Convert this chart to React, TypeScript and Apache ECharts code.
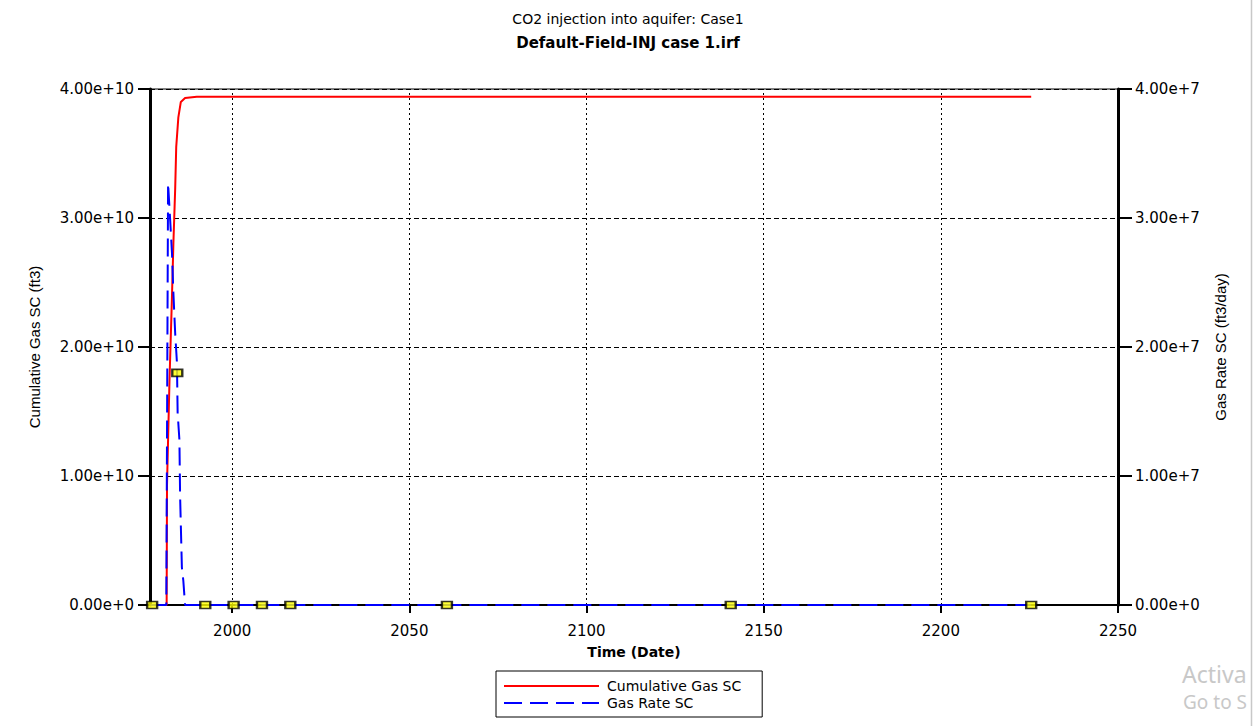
import React, { useEffect, useRef } from "react";
import * as echarts from "echarts";

// ---- data ----
const cumYears = [1977.0, 1981.5, 1981.6, 1982.3, 1983.0, 1983.4, 1983.9, 1984.2, 1984.8, 1985.5, 1986.7, 1990.0, 2225.5];
const cumGas = [0, 0, 0.93e10, 1.74e10, 2.39e10, 2.8e10, 3.22e10, 3.55e10, 3.78e10, 3.9e10, 3.93e10, 3.94e10, 3.94e10];

const rateYears = [1977.0, 1981.4, 1981.9, 1982.5, 1983.0, 1983.4, 1983.9, 1984.4, 1984.6, 1985.1, 1985.3, 1985.8, 1986.2, 1986.7, 2225.5];
const gasRate = [0, 0, 3.27e7, 2.98e7, 2.73e7, 2.42e7, 2.11e7, 1.88e7, 1.49e7, 1.28e7, 0.84e7, 0.29e7, 0.19e7, 0, 0];

const markerYears = [1977.4, 1984.5, 1992.4, 2000.4, 2008.4, 2016.4, 2060.6, 2140.7, 2225.5];
const markerRates = [0, 1.8e7, 0, 0, 0, 0, 0, 0, 0];

const xTickValues = [2000, 2050, 2100, 2150, 2200, 2250];
const xGridValues = [2000, 2050, 2100, 2150, 2200];

const titleLine1 = "CO2 injection into aquifer: Case1";
const titleLine2 = "Default-Field-INJ case 1.irf";
const seriesNames = ["Cumulative Gas SC", "Gas Rate SC"];

const SANS = "'DejaVu Sans', sans-serif";
const ARIAL = "'Liberation Sans', Arial, sans-serif";

function fmt(v: number) {
  return v.toExponential(2);
}

export default function App() {
  const ref = useRef<HTMLDivElement>(null);
  useEffect(() => {
    if (!ref.current) return;
    const chart = echarts.init(ref.current, null, { renderer: "svg" });
    const option: any = {
      animation: false,
      backgroundColor: "#ffffff",
      title: [
        {
          text: titleLine1,
          left: "center",
          top: 7,
          textStyle: { fontFamily: SANS, fontSize: 14, fontWeight: "normal", color: "#000" },
        },
        {
          text: titleLine2,
          left: "center",
          top: 30,
          textStyle: { fontFamily: SANS, fontSize: 15, fontWeight: "bold", color: "#000" },
        },
      ],
      legend: {
        data: seriesNames,
        orient: "vertical",
        left: 496,
        top: 671,
        itemWidth: 95,
        itemHeight: 12,
        itemGap: 3,
        padding: [8, 21, 7, 7],
        borderColor: "#000",
        borderWidth: 1,
        itemStyle: { opacity: 0 },
        textStyle: { fontFamily: SANS, fontSize: 14, color: "#000", padding: [0, 0, 0, 3] },
      },
      grid: {
        left: 150,
        right: 138,
        top: 89,
        bottom: 121,
        show: true,
        borderColor: "#000",
        borderWidth: 1,
        containLabel: false,
        outerBoundsMode: "none",
      },
      xAxis: {
        type: "value",
        min: 1976.8,
        max: 2250,
        name: "Time (Date)",
        nameLocation: "middle",
        nameGap: 40,
        nameTextStyle: { fontFamily: SANS, fontSize: 14, fontWeight: "bold", color: "#000" },
        axisLine: { show: true, onZero: false, lineStyle: { color: "#000", width: 2 } },
        axisTick: { show: true, length: 8, customValues: xTickValues, lineStyle: { color: "#000", width: 2 } },
        axisLabel: {
          customValues: xTickValues,
          margin: 18,
          fontFamily: SANS,
          fontSize: 15,
          color: "#000",
          formatter: (v: number) => String(v),
        },
        splitLine: { show: false },
      },
      yAxis: [
        {
          type: "value",
          min: 0,
          max: 4e10,
          interval: 1e10,
          position: "left",
          name: "Cumulative Gas SC (ft3)",
          nameLocation: "middle",
          nameGap: 108,
          nameRotate: 90,
          nameTextStyle: { fontFamily: ARIAL, fontSize: 15, color: "#000" },
          axisLine: { show: true, lineStyle: { color: "#000", width: 3 } },
          axisTick: { show: true, length: 12, lineStyle: { color: "#000", width: 2 } },
          axisLabel: { margin: 16, fontFamily: SANS, fontSize: 15, color: "#000", formatter: fmt },
          splitLine: { show: true, lineStyle: { color: "#000", width: 1, type: [5, 3] } },
        },
        {
          type: "value",
          min: 0,
          max: 4e7,
          interval: 1e7,
          position: "right",
          name: "Gas Rate SC (ft3/day)",
          nameLocation: "middle",
          nameGap: 95,
          nameRotate: 90,
          nameTextStyle: { fontFamily: ARIAL, fontSize: 15, color: "#000" },
          axisLine: { show: true, lineStyle: { color: "#000", width: 3 } },
          axisTick: { show: true, length: 14, lineStyle: { color: "#000", width: 2 } },
          axisLabel: { margin: 17, fontFamily: SANS, fontSize: 15, color: "#000", formatter: fmt },
          splitLine: { show: false },
        },
      ],
      series: [
        {
          name: seriesNames[0],
          type: "line",
          yAxisIndex: 0,
          symbol: "none",
          z: 3,
          lineStyle: { color: "#ff0000", width: 2 },
          itemStyle: { color: "#ff0000" },
          data: cumYears.map((x, i) => [x, cumGas[i]]),
          markLine: {
            silent: true,
            symbol: "none",
            label: { show: false },
            lineStyle: { color: "#000", width: 1, type: [2, 3] },
            data: xGridValues.map((v) => ({ xAxis: v })),
            z: 1,
          },
        },
        {
          name: seriesNames[1],
          type: "line",
          yAxisIndex: 1,
          symbol: "none",
          z: 4,
          lineStyle: { color: "#0000ff", width: 2, type: [18, 8] },
          itemStyle: { color: "#0000ff" },
          data: rateYears.map((x, i) => [x, gasRate[i]]),
        },
        {
          name: "markers",
          type: "scatter",
          yAxisIndex: 1,
          symbol: "rect",
          symbolSize: [10, 7],
          z: 5,
          itemStyle: { color: "#ffff00", borderColor: "#000", borderWidth: 2 },
          data: markerYears.map((x, i) => [x, markerRates[i]]),
        },
      ],
      graphic: [
        {
          type: "line",
          shape: { x1: 1251.5, y1: 0, x2: 1251.5, y2: 726 },
          style: { stroke: "#c8c8c8", lineWidth: 1.5 },
        },
        {
          type: "text",
          left: 1182,
          top: 662,
          style: { text: "Activa", fontFamily: "'Noto Sans', sans-serif", fontSize: 23, fill: "#c8c8c8" },
        },
        {
          type: "text",
          left: 1183,
          top: 692,
          style: { text: "Go to S", fontFamily: "'Noto Sans', sans-serif", fontSize: 19, fill: "#c8c8c8" },
        },
      ],
    };
    chart.setOption(option);
    return () => chart.dispose();
  }, []);
  return (
    <div
      ref={ref}
      style={{ position: "fixed", left: 0, top: 0, width: 1256, height: 726, background: "#fff" }}
    />
  );
}
